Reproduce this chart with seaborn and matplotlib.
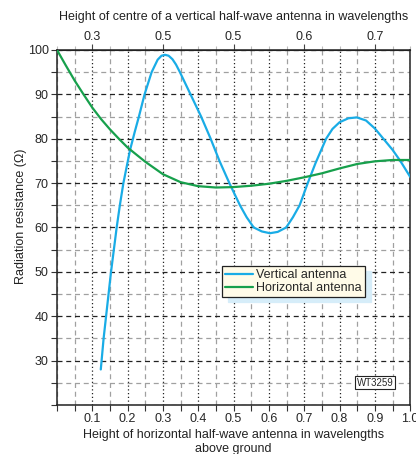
import numpy as np
import pandas as pd
import matplotlib
matplotlib.use("Agg")
import matplotlib.pyplot as plt
from matplotlib.ticker import MultipleLocator
import seaborn as sns

# values
vert_x = [0.124, 0.132, 0.139, 0.146, 0.153, 0.161, 0.169, 0.178, 0.188, 0.207,
          0.22, 0.232, 0.248, 0.268, 0.285, 0.296, 0.306, 0.316, 0.327, 0.337,
          0.348, 0.378, 0.408, 0.435, 0.46, 0.488, 0.518, 0.537, 0.557, 0.58,
          0.603, 0.625, 0.649, 0.668, 0.687, 0.71, 0.732, 0.762, 0.78, 0.80,
          0.825, 0.849, 0.875, 0.90, 0.924, 0.95, 0.972, 1.0]
vert_y = [28, 35, 40, 45, 50, 55, 60, 65, 70, 77.5,
          81.5, 85, 90, 95, 97.8, 98.7, 98.9, 98.7, 97.9, 96.7,
          95, 90, 85, 80, 75, 70, 65, 62.3, 60, 59.1,
          58.7, 59.0, 60, 62.3, 65, 70, 74.5, 80, 82.2, 83.7,
          84.6, 84.8, 84.1, 82.3, 80, 77.5, 75, 71.4]

horiz_x = [0.0, 0.025, 0.05, 0.075, 0.1, 0.125, 0.15, 0.175, 0.2, 0.25, 0.3,
           0.35, 0.4, 0.45, 0.5, 0.55, 0.6, 0.65, 0.7, 0.75, 0.8, 0.85, 0.9,
           0.95, 1.0]
horiz_y = [100, 96.5, 93.1, 90.0, 87.0, 84.4, 82.1, 80.0, 78.0, 74.8, 72.0,
           70.2, 69.3, 69.0, 69.1, 69.4, 69.85, 70.5, 71.3, 72.2, 73.3, 74.3, 74.9,
           75.2, 75.2]

bottom_ticks = [0.1, 0.2, 0.3, 0.4, 0.5, 0.6, 0.7, 0.8, 0.9, 1.0]
bottom_labels = ["0.1", "0.2", "0.3", "0.4", "0.5", "0.6", "0.7", "0.8", "0.9", "1.0"]
top_ticks = [0.1, 0.3, 0.5, 0.7, 0.9]
top_labels = ["0.3", "0.5", "0.5", "0.6", "0.7"]
y_ticks = [30, 40, 50, 60, 70, 80, 90, 100]

blue = "#19ace6"
green = "#17a04c"

sns.set_style("ticks")
plt.rcParams['font.family'] = ['Liberation Sans', 'DejaVu Sans']
plt.rcParams['font.size'] = 9

fig = plt.figure(figsize=(4.16, 4.54), dpi=100)
ax = fig.add_axes([0.137, 0.108, 0.849, 0.782])

df_v = pd.DataFrame({"x": vert_x, "y": vert_y})
df_h = pd.DataFrame({"x": horiz_x, "y": horiz_y})
sns.lineplot(data=df_v, x="x", y="y", ax=ax, color=blue, lw=1.6,
             label="Vertical antenna", zorder=3)
sns.lineplot(data=df_h, x="x", y="y", ax=ax, color=green, lw=1.6,
             label="Horizontal antenna", zorder=3)

ax.set_xlim(0, 1.0)
ax.set_ylim(20, 100)
ax.set_xticks(bottom_ticks, labels=bottom_labels)
ax.set_yticks(y_ticks)
ax.xaxis.set_minor_locator(MultipleLocator(0.05))
ax.yaxis.set_minor_locator(MultipleLocator(5))

# grid
ax.set_axisbelow(True)
ax.grid(which="major", axis="x", ls=(0, (1, 2)), color="#222222", lw=0.9)
ax.grid(which="minor", axis="x", ls=(0, (4, 3)), color="#a0a0a0", lw=0.9)
ax.grid(which="major", axis="y", ls=(0, (4, 3)), color="#222222", lw=0.9)
ax.grid(which="minor", axis="y", ls=(0, (4, 3)), color="#a0a0a0", lw=0.9)

for s in ax.spines.values():
    s.set_linewidth(1.1)
    s.set_color("#222222")

ax.tick_params(which="both", direction="out", length=4, width=0.8,
               color="#333333", labelsize=9, pad=2)

ax.set_xlabel("Height of horizontal half-wave antenna in wavelengths\nabove ground",
              fontsize=9, labelpad=3, color="#222222")
ax.set_ylabel("Radiation resistance (\u03a9)", fontsize=9, color="#222222")
ax.yaxis.set_label_coords(-0.085, 0.53)

sec = ax.secondary_xaxis("top")
sec.set_xticks(top_ticks, labels=top_labels)
sec.xaxis.set_minor_locator(MultipleLocator(0.05))
sec.tick_params(which="major", direction="out", length=4, width=0.8,
                color="#444444", labelsize=9, pad=1)
sec.tick_params(which="minor", direction="out", length=3, width=0.8,
                color="#bbbbbb")
sec.set_xlabel("Height of centre of a vertical half-wave antenna in wavelengths",
               fontsize=9, labelpad=8, color="#222222")

leg = ax.legend(loc="upper left", bbox_to_anchor=(0.467, 0.392),
                frameon=True, fancybox=False, handlelength=2.2,
                handletextpad=0.3, borderpad=0.25, labelspacing=0.1,
                borderaxespad=0, fontsize=9,
                shadow={"ox": 4.5, "oy": -3.5, "facecolor": "#d6edf9",
                        "edgecolor": "#d6edf9", "alpha": 1})
leg.get_frame().set_facecolor("#fffbe8")
leg.get_frame().set_edgecolor("#222222")
leg.get_frame().set_linewidth(0.9)
leg.get_frame().set_alpha(1)

ax.text(0.90, 25, "WT3259", fontsize=7, ha="center", va="center", zorder=4,
        bbox=dict(boxstyle="square,pad=0.15", fc="white", ec="#222222", lw=0.8))

fig.savefig("out.png", dpi=100)
